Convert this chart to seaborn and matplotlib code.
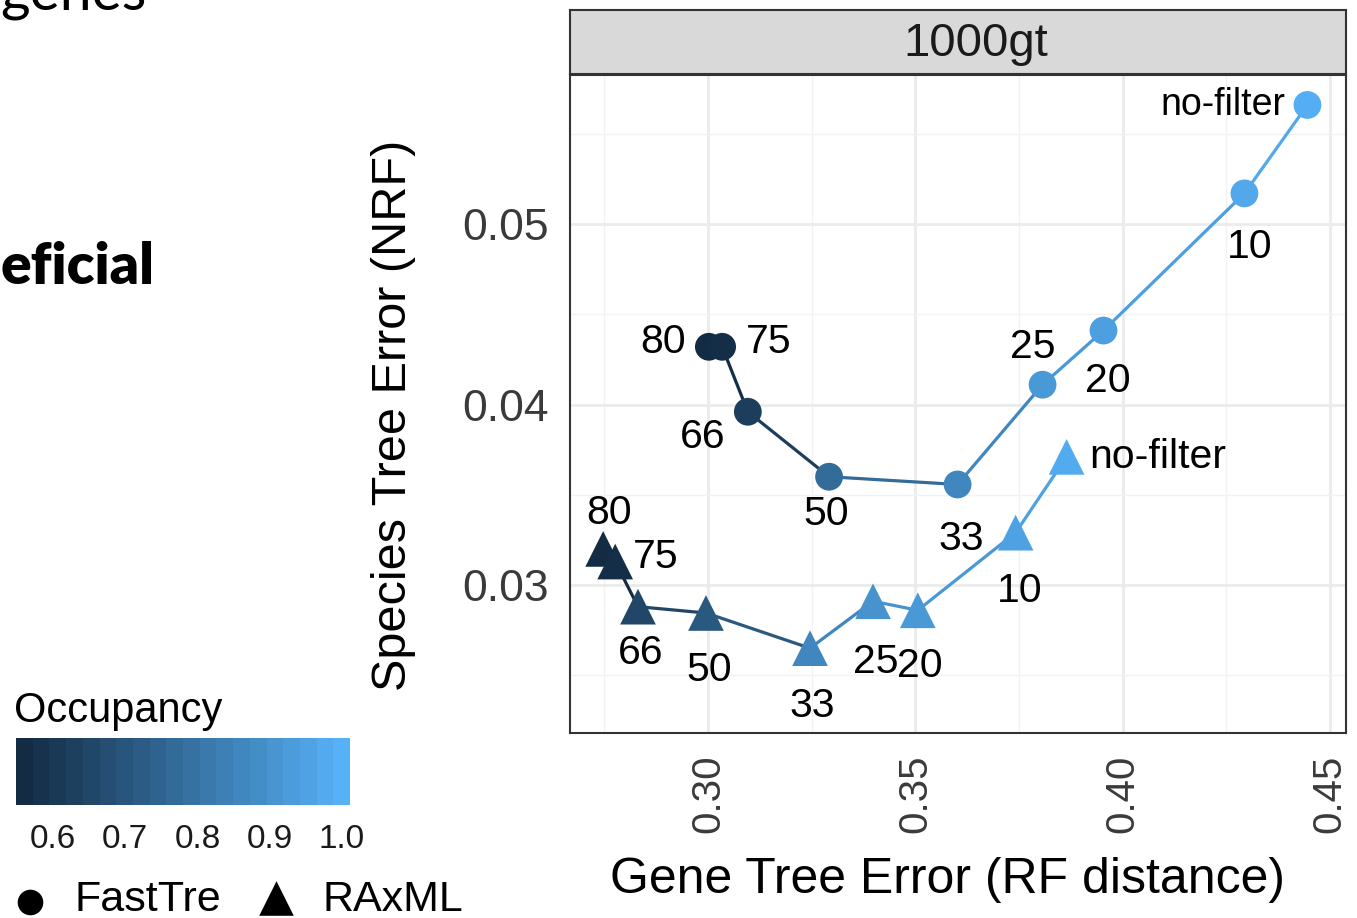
import numpy as np
import pandas as pd
import matplotlib
matplotlib.use("Agg")
import matplotlib.pyplot as plt
import seaborn as sns
from matplotlib.colors import LinearSegmentedColormap, Normalize
from matplotlib.cm import ScalarMappable

# ---- data -------------------------------------------------------------
filters = ["80", "75", "66", "50", "33", "25", "20", "10", "no-filter"]

fasttree_gt_err = [0.3002, 0.3034, 0.3096, 0.3292, 0.3602, 0.3807, 0.3954, 0.4294, 0.4446]
fasttree_sp_err = [0.0432, 0.0432, 0.0396, 0.0360, 0.03557, 0.0411, 0.0441, 0.0517, 0.0566]
fasttree_occ = [0.56, 0.57, 0.62, 0.77, 0.86, 0.92, 0.94, 0.97, 0.99]

raxml_gt_err = [0.2747, 0.2776, 0.2831, 0.2995, 0.3246, 0.3398, 0.3506, 0.3742, 0.3865]
raxml_sp_err = [0.0320, 0.0313, 0.0288, 0.02845, 0.0265, 0.0291, 0.0286, 0.0329, 0.0371]
raxml_occ = [0.56, 0.57, 0.65, 0.71, 0.86, 0.90, 0.92, 0.95, 0.98]

methods = ["FastTre", "RAxML"]
facet_label = "1000gt"
occ_limits = (0.56, 1.00)
occ_ticks = [0.6, 0.7, 0.8, 0.9, 1.0]
x_ticks = [0.30, 0.35, 0.40, 0.45]
y_ticks = [0.03, 0.04, 0.05]

df = pd.concat([
    pd.DataFrame({"method": methods[0], "filter": filters,
                  "gt_err": fasttree_gt_err, "sp_err": fasttree_sp_err, "occ": fasttree_occ}),
    pd.DataFrame({"method": methods[1], "filter": filters,
                  "gt_err": raxml_gt_err, "sp_err": raxml_sp_err, "occ": raxml_occ}),
], ignore_index=True)

# ---- styling ------------------------------------------------------------
W, H = 1357, 918
sns.set_style("white")
plt.rcParams["font.family"] = ["Liberation Sans", "DejaVu Sans"]

cmap = LinearSegmentedColormap.from_list("occ", ["#132B43", "#56B1F7"])
norm = Normalize(*occ_limits)

marker_style = {
    "FastTre": dict(marker="o", s=400),
    "RAxML": dict(marker="^", s=660),
}

# label offsets in pixels (dx right, dy down) and horizontal alignment
label_offsets = {
    "FastTre": {"80": (-46, -5, "center"), "75": (47, -5, "center"), "66": (-45, 25, "center"),
                "50": (-3, 37, "center"), "33": (4, 55, "center"), "25": (-10, -38, "center"),
                "20": (4, 50, "center"), "10": (5, 54, "center"), "no-filter": (-22, 0, "right")},
    "RAxML": {"80": (6, -36, "center"), "75": (41, -5, "center"), "66": (3, 46, "center"),
              "50": (3, 57, "center"), "33": (2, 58, "center"), "25": (3, 61, "center"),
              "20": (2, 56, "center"), "10": (4, 58, "center"), "no-filter": (23, 0, "left")},
}
label_size = {"FastTre": {"no-filter": 27}, "RAxML": {"no-filter": 29.5}}

fig = plt.figure(figsize=(W / 100, H / 100), dpi=100)

# full-figure overlay in pixel units for slide text and legend keys
ov = fig.add_axes([0, 0, 1, 1])
ov.set_xlim(0, W)
ov.set_ylim(H, 0)
ov.axis("off")
ov.patch.set_alpha(0)

ov.text(147, 10, "genes", fontsize=41, family=["Lato", "DejaVu Sans"],
        ha="right", va="baseline", color="black")
ov.text(1, 284, "eficial", fontsize=41, family=["Lato", "DejaVu Sans"], fontweight="heavy",
        ha="left", va="baseline", color="black")

# ---- main panel ---------------------------------------------------------
px = lambda x0, y0, x1, y1: [x0 / W, 1 - y1 / H, (x1 - x0) / W, (y1 - y0) / H]
ax = fig.add_axes(px(570, 75, 1346, 733))

for m in methods:
    sub = df[df["method"] == m].sort_values("gt_err").reset_index(drop=True)
    for i in range(len(sub) - 1):
        ax.plot(sub.loc[i:i + 1, "gt_err"], sub.loc[i:i + 1, "sp_err"],
                color=cmap(norm(sub.loc[i, "occ"])), lw=2.3, zorder=2, solid_capstyle="butt")
    sns.scatterplot(data=sub, x="gt_err", y="sp_err", hue="occ", palette=cmap,
                    hue_norm=norm, linewidth=0, legend=False, ax=ax, zorder=3,
                    **marker_style[m])
    for _, r in sub.iterrows():
        dx, dy, ha = label_offsets[m][r["filter"]]
        ax.annotate(r["filter"], (r["gt_err"], r["sp_err"]),
                    xytext=(dx * 0.72, -dy * 0.72), textcoords="offset points",
                    ha=ha, va="center", fontsize=label_size[m].get(r["filter"], 29.5),
                    color="black", zorder=4)

ax.set_xlim(0.2667, 0.4539)
ax.set_ylim(0.0218, 0.05826)
ax.set_xticks(x_ticks)
ax.set_yticks(y_ticks)
ax.set_xticklabels([f"{v:.2f}" for v in x_ticks], rotation=90)
ax.set_yticklabels([f"{v:.2f}" for v in y_ticks])
ax.set_xticks([0.275, 0.325, 0.375, 0.425], minor=True)
ax.set_yticks([0.025, 0.035, 0.045, 0.055], minor=True)
ax.grid(True, which="major", color="#EBEBEB", lw=2.0)
ax.grid(True, which="minor", color="#F2F2F2", lw=1.0)
ax.set_axisbelow(True)
ax.tick_params(axis="both", which="major", length=8.5, width=1.4, color="#333333",
               labelcolor="#3A3A3A", pad=7)
ax.tick_params(axis="x", which="major", labelsize=29)
ax.tick_params(axis="y", which="major", labelsize=32)
ax.tick_params(axis="both", which="minor", length=0)
for sp in ax.spines.values():
    sp.set_color("#333333")
    sp.set_linewidth(1.5)

ax.set_xlabel("Gene Tree Error (RF distance)", fontsize=36, color="black")
ax.set_ylabel("Species Tree Error (NRF)", fontsize=35, color="black")
ax.xaxis.set_label_coords(0.487, -0.188)
ax.yaxis.set_label_coords(-0.199, 0.483)

# facet strip
strip = fig.add_axes(px(570, 10, 1346, 74))
strip.set_facecolor("#D9D9D9")
strip.set_xticks([])
strip.set_yticks([])
for sp in strip.spines.values():
    sp.set_color("#333333")
    sp.set_linewidth(1.5)
strip.text(0.523, 0.47, facet_label, ha="center", va="center", fontsize=34,
           color="#1A1A1A", transform=strip.transAxes)

# ---- colour bar legend ---------------------------------------------------
ov.text(14, 722, "Occupancy", fontsize=30, ha="left", va="baseline", color="black")
cax = fig.add_axes(px(16, 738, 350, 805))
nbin = 20
span = occ_limits[1] - occ_limits[0]
pad = span / (nbin - 1) / 2
bounds = np.linspace(occ_limits[0] - pad, occ_limits[1] + pad, nbin + 1)
vals = np.linspace(occ_limits[0], occ_limits[1], nbin)
cb = fig.colorbar(ScalarMappable(norm=norm, cmap=cmap), cax=cax, orientation="horizontal",
                  boundaries=bounds, values=vals, ticks=occ_ticks)
cb.outline.set_visible(False)
cb.ax.set_xticklabels([f"{t:.1f}" for t in occ_ticks])
cb.ax.tick_params(length=0, labelsize=24, labelcolor="#1A1A1A", pad=14)

# shape legend
ov.scatter([30], [902], marker="o", s=340, color="black", linewidth=0)
ov.text(75, 911, methods[0], fontsize=31, ha="left", va="baseline", color="black")
ov.scatter([276], [898], marker="^", s=620, color="black", linewidth=0)
ov.text(322, 911, methods[1], fontsize=31, ha="left", va="baseline", color="black")

fig.savefig("out.png", dpi=100)
